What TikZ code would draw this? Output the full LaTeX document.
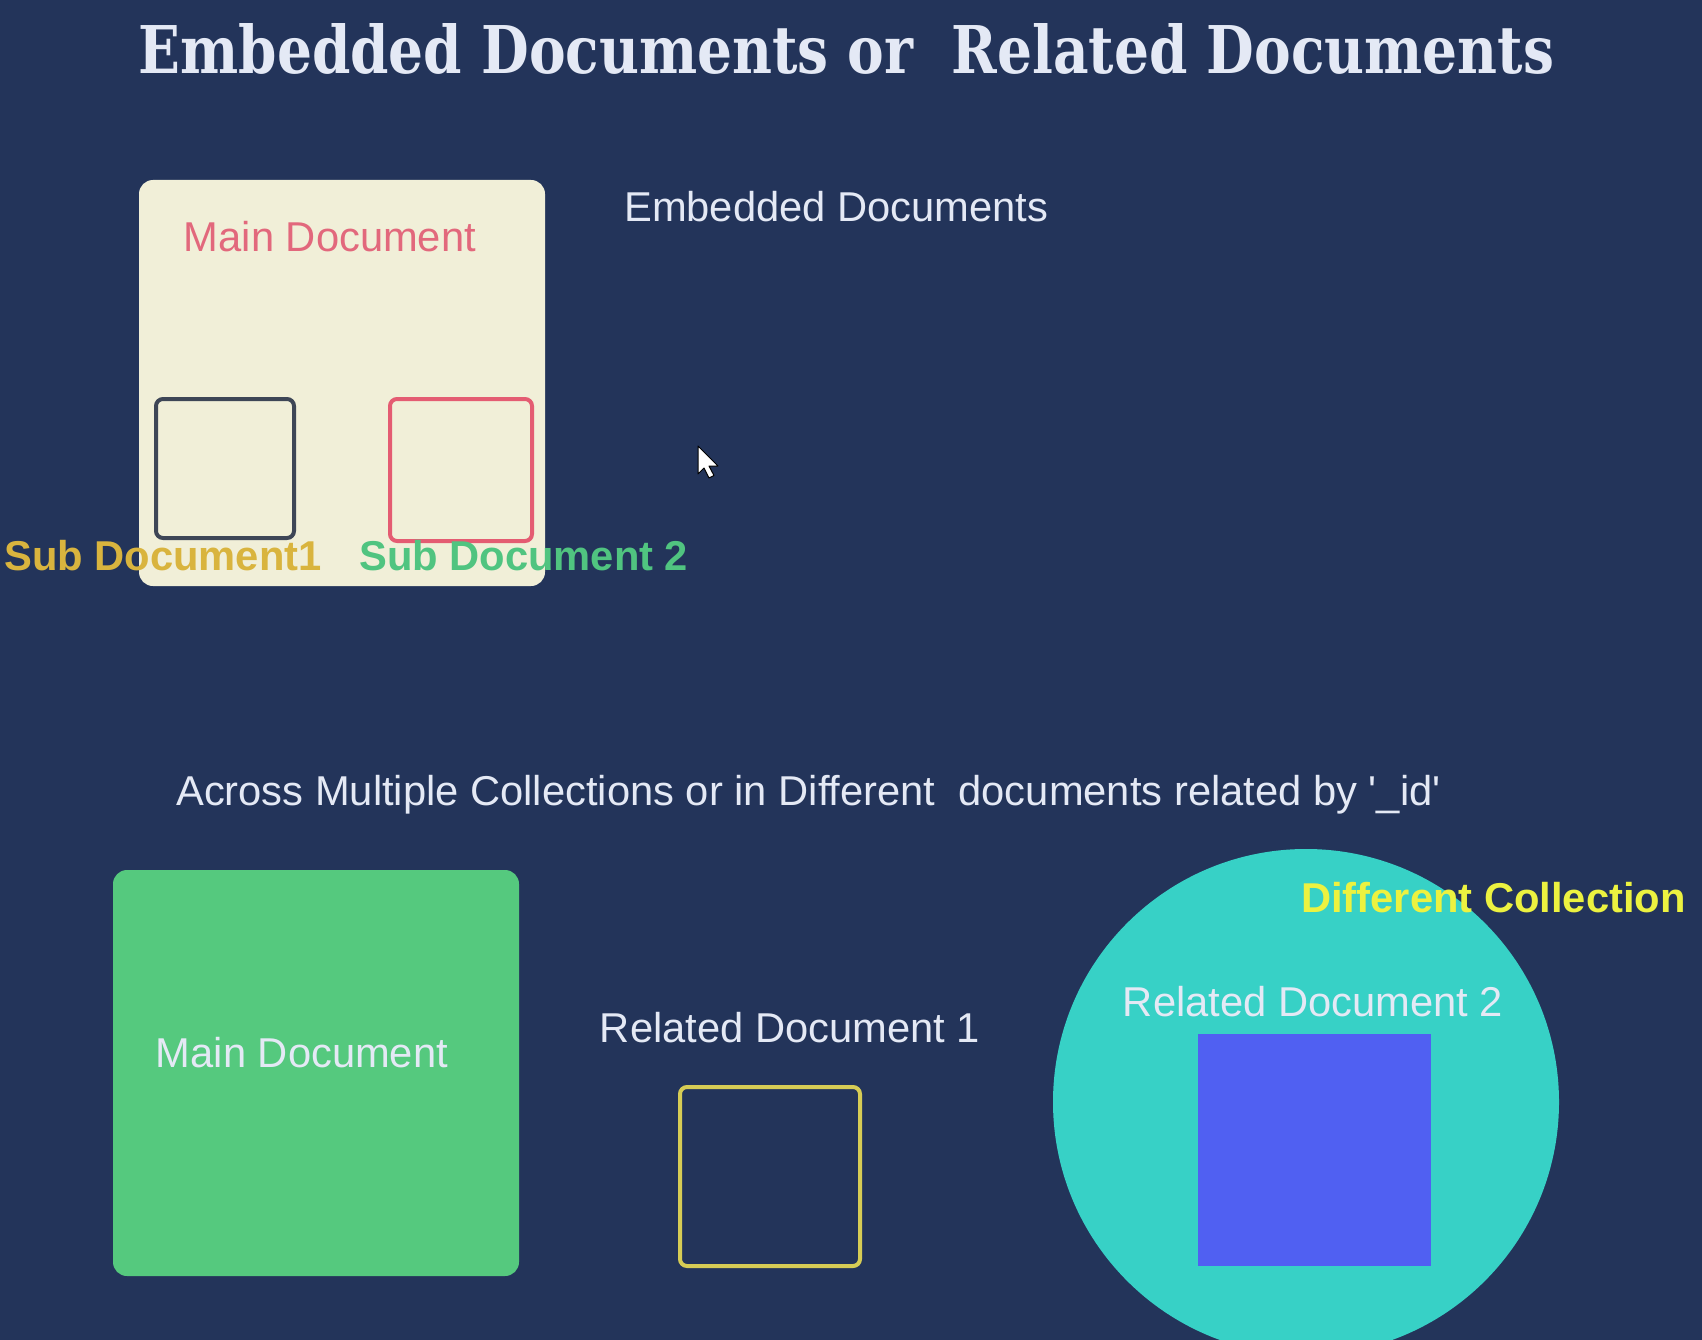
\documentclass[tikz,border=0pt]{standalone}
\usepackage{fontspec}
\setmainfont{Liberation Sans}[Ligatures=TeXOff]
\newfontfamily\titlefont{DejaVu Serif}
\usepackage{graphicx}
\definecolor{bgnavy}{RGB}{35,52,90}
\definecolor{cream}{RGB}{241,239,216}
\definecolor{rosered}{RGB}{226,104,124}
\definecolor{boxred}{RGB}{228,92,114}
\definecolor{slategray}{RGB}{62,70,86}
\definecolor{goldtext}{RGB}{217,180,62}
\definecolor{greentext}{RGB}{80,196,128}
\definecolor{paletext}{RGB}{228,233,245}
\definecolor{docgreen}{RGB}{85,201,126}
\definecolor{boxyellow}{RGB}{214,204,85}
\definecolor{teal}{RGB}{55,209,198}
\definecolor{docblue}{RGB}{80,96,242}
\definecolor{lemon}{RGB}{236,242,64}
\begin{document}
\begin{tikzpicture}[x=1pt,y=-1pt,
  label/.style={inner sep=0pt, font=\fontsize{41.7}{48}\selectfont, text height=0.72em, text depth=0pt},
  boldlabel/.style={label, font=\fontsize{41.7}{48}\selectfont\bfseries},
  outlinebox/.style={draw, line width=4pt, rounded corners=7pt, inner sep=0pt},
  solidbox/.style={inner sep=0pt, rounded corners=14pt}]
  % canvas
  \fill[bgnavy] (0,0) rectangle (1702,1340);
  \useasboundingbox (0,0) rectangle (1702,1340);

  % heading
  \node[inner sep=0pt, text=paletext] (title) at (846.5,49)
    {\resizebox{1415pt}{50pt}{\titlefont\bfseries Embedded Documents or\ \ Related Documents}};

  % embedded documents: main document holding two sub documents
  \node[solidbox, fill=cream, minimum width=406pt, minimum height=406pt] (emain) at (342,383) {};
  \node[label, text=rosered] (emaintext) at (330,248) {Main Document};
  \node[outlinebox, draw=slategray, minimum width=138pt, minimum height=139pt] (sub1) at (225,468.5) {};
  \node[outlinebox, draw=boxred, minimum width=142pt, minimum height=142pt] (sub2) at (461,470) {};
  \node[boldlabel, text=goldtext, anchor=west] (sub1text) at (4,567) {Sub Document1};
  \node[boldlabel, text=greentext, anchor=west] (sub2text) at (359,567) {Sub Document 2};
  \node[label, text=paletext, anchor=west] (embtext) at (624,218) {Embedded Documents};

  % pointer
  \draw[black, line width=1pt, fill=white, line join=round]
    (698,446) -- ++(0,28) -- ++(6,-6) -- ++(5,10) -- ++(5,-2.5) -- ++(-5,-9.5) -- ++(9,0) -- cycle;

  % related documents across collections
  \node[label, text=paletext, anchor=west] (acrosstext) at (176,802)
    {Across Multiple Collections or in Different\ \ documents related by '\_id'};
  \node[solidbox, fill=docgreen, minimum width=406pt, minimum height=406pt] (rmain) at (316,1073) {};
  \node[label, text=paletext] (rmaintext) at (302,1064) {Main Document};
  \node[label, text=paletext] (rel1text) at (790,1039) {Related Document 1};
  \node[outlinebox, draw=boxyellow, minimum width=180pt, minimum height=179pt] (rel1) at (770,1176.5) {};
  \node[circle, fill=teal, minimum size=506pt, inner sep=0pt] (coll) at (1306,1102) {};
  \node[boldlabel, text=lemon, anchor=west] (colltext) at (1301,909) {Different Collection};
  \node[label, text=paletext] (rel2text) at (1313,1013) {Related Document 2};
  \node[fill=docblue, inner sep=0pt, minimum width=233pt, minimum height=232pt] (rel2) at (1314.5,1150) {};
\end{tikzpicture}
\end{document}
